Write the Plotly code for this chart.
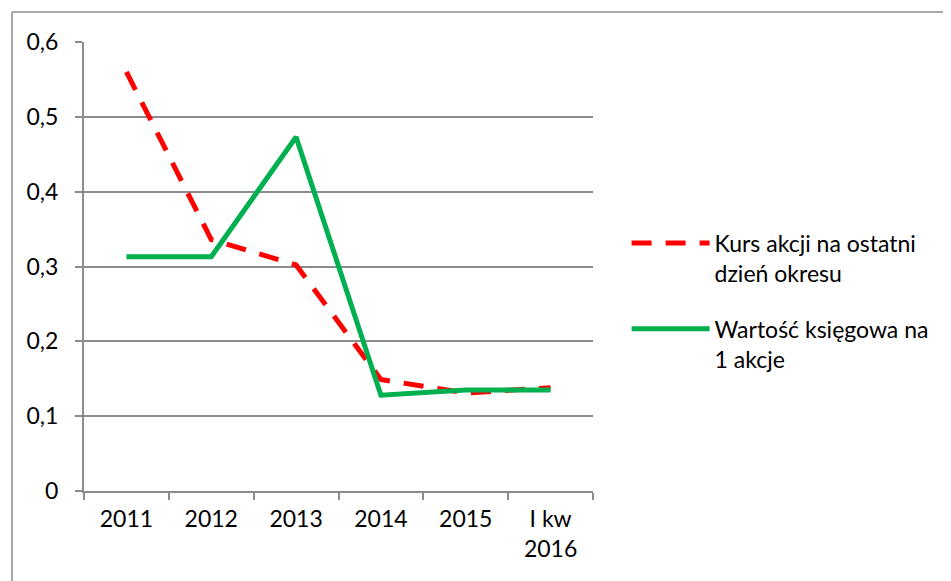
import plotly.graph_objects as go

categories = ["2011", "2012", "2013", "2014", "2015", "I kw<br>2016"]
kurs = [0.56, 0.336, 0.302, 0.149, 0.131, 0.138]
wartosc = [0.313, 0.313, 0.473, 0.128, 0.135, 0.135]
y_tickvals = [0, 0.1, 0.2, 0.3, 0.4, 0.5, 0.6]
y_ticktext = ["0", "0,1", "0,2", "0,3", "0,4", "0,5", "0,6"]

FONT = "Lato, 'Open Sans', sans-serif"
GRID = "#8c8c8c"

fig = go.Figure()
fig.add_trace(go.Scatter(
    x=categories, y=kurs, mode="lines", legendgroup="a",
    name="Kurs akcji na ostatni<br>dzień okresu",
    line=dict(color="#FF0000", width=5, dash="20px,14px"),
))
fig.add_trace(go.Scatter(
    x=categories, y=wartosc, mode="lines", legendgroup="b",
    name="Wartość księgowa na<br>1 akcje",
    line=dict(color="#00B050", width=5),
))

fig.update_layout(
    width=951, height=581,
    margin=dict(l=76, r=366, t=34, b=98),
    paper_bgcolor="white", plot_bgcolor="white",
    font=dict(family=FONT, size=23, color="#000000"),
    showlegend=True,
    legend=dict(x=1.066, y=0.60, xanchor="left", yanchor="top", valign="top",
                font=dict(size=23, family=FONT), itemwidth=78,
                tracegroupgap=23, bgcolor="rgba(0,0,0,0)"),
    xaxis=dict(
        type="category", showgrid=False, showline=True, linecolor=GRID, linewidth=2,
        ticks="outside", tickson="boundaries", ticklen=7, tickcolor=GRID, tickwidth=2,
        tickfont=dict(size=23), range=[-0.5, 5.5], ticklabelstandoff=6,
    ),
    yaxis=dict(
        range=[0, 0.6], tickvals=y_tickvals, ticktext=y_ticktext,
        showgrid=True, gridcolor=GRID, gridwidth=2,
        showline=True, linecolor=GRID, linewidth=2,
        ticks="outside", ticklen=7, tickcolor=GRID, tickwidth=2,
        tickfont=dict(size=23), zeroline=False, ticklabelstandoff=12,
    ),
    shapes=[
        dict(type="line", xref="paper", yref="paper", x0=-0.1415, x1=1.8, y0=1.0668, y1=1.0668,
             line=dict(color="#8c8c8c", width=1.5)),
        dict(type="line", xref="paper", yref="paper", x0=-0.1415, x1=-0.1415, y0=-0.3, y1=1.0668,
             line=dict(color="#8c8c8c", width=1.5)),
    ],
)

fig.write_html("out.html")
